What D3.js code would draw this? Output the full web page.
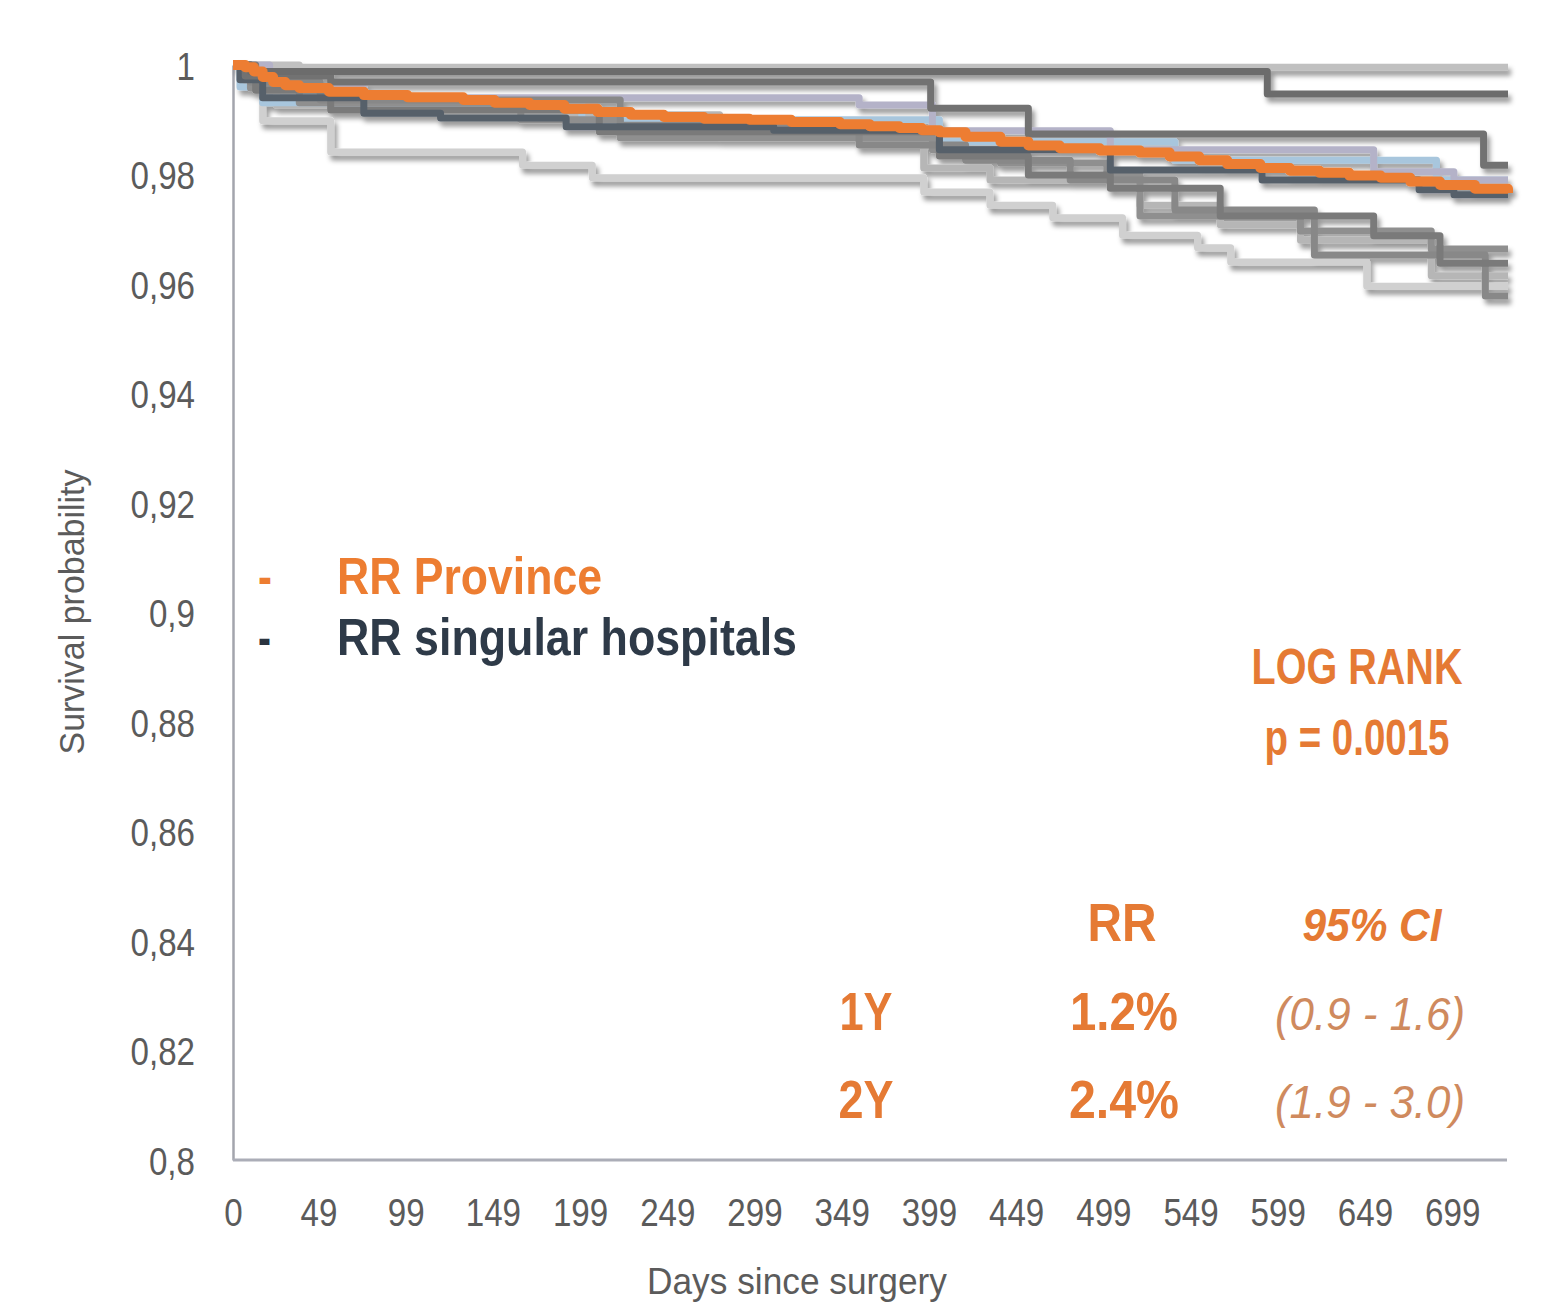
<!DOCTYPE html>
<html>
<head>
<meta charset="utf-8">
<script src="https://cdn.jsdelivr.net/npm/d3@7"></script>
<style>
  body { margin: 0; background: #fff; }
  svg text { font-family: "Liberation Sans", Arial, sans-serif; }
</style>
</head>
<body>
<script>
// Kaplan-Meier curves, [day, survival]
const province = [[0,1],[7,0.9996],[12,0.9988],[17,0.9978],[23,0.9969],[30,0.9963],[38,0.9958],[55,0.9951],[75,0.9945],
  [100,0.9941],[132,0.9936],[150,0.9931],[170,0.9927],[190,0.992],[209,0.9914],[228,0.9909],[247,0.9905],[270,0.9902],
  [296,0.99],[320,0.9896],[348,0.9892],[365,0.9888],[382,0.9885],[395,0.9881],[405,0.9877],[420,0.9869],[440,0.986],
  [456,0.9853],[474,0.9848],[497,0.9844],[520,0.984],[537,0.9833],[554,0.9826],[570,0.9819],[589,0.9812],[606,0.9807],
  [623,0.9803],[640,0.9798],[658,0.9794],[675,0.9787],[692,0.9781],[712,0.9774],[731,0.9766]];

const hosp1 = [[0,1],[38,0.9996],[731,0.9996]];
const hosp2 = [[0,1],[10,0.9988],[593,0.9947],[731,0.9947]];
const hosp3 = [[0,1],[7,0.998],[56,0.9969],[400,0.9921],[456,0.9874],[717,0.9817],[731,0.9817]];
const hosp4 = [[0,1],[7,0.9963],[17,0.9898],[56,0.9841],[166,0.9817],[206,0.9794],[396,0.9768],[434,0.9744],
  [470,0.9721],[510,0.9689],[553,0.9666],[572,0.964],[650,0.9596],[731,0.9596]];
const hosp5 = [[0,1],[4,0.9973],[17,0.994],[75,0.9912],[119,0.9903],[191,0.9887],[310,0.9881],[405,0.9845],
  [503,0.9808],[590,0.979],[680,0.9772],[700,0.9763],[731,0.9763]];
const hosp6 = [[0,1],[10,0.9958],[38,0.9931],[165,0.99],[222,0.9867],[401,0.9845],[440,0.9821],[501,0.9799],
  [520,0.9724],[612,0.9697],[687,0.9664],[731,0.9664]];
const hosp7 = [[0,1],[13,0.9954],[56,0.9918],[210,0.9878],[405,0.9834],[456,0.9799],[503,0.9775],[566,0.9724],
  [654,0.9688],[692,0.9638],[731,0.9638]];
const hosp8 = [[0,1],[5,0.9963],[25,0.9927],[119,0.9909],[279,0.9867],[396,0.9812],[434,0.979],[520,0.9744],
  [566,0.9708],[612,0.968],[687,0.9615],[731,0.9615]];
const hosp9 = [[0,1],[10,0.9969],[50,0.9936],[222,0.989],[359,0.9854],[420,0.9826],[480,0.979],[540,0.9735],
  [620,0.9653],[718,0.9578],[731,0.9578]];
const hosp10 = [[0,1],[21,0.9958],[75,0.994],[359,0.9927],[401,0.988],[503,0.9845],[654,0.9805],[700,0.979],[731,0.979]];
const hosp11 = [[0,1],[4,0.996],[17,0.9931],[200,0.99],[405,0.986],[540,0.9826],[690,0.979],[731,0.979]];

const hospitals = [hosp4, hosp1, hosp8, hosp11, hosp10, hosp6, hosp9, hosp7, hosp5, hosp3, hosp2];
const hospColors = ["#d0d0d0", "#c0c0c0", "#b6b6b6", "#a8c6dd", "#b4b2c8", "#8f8f8f", "#888888", "#7a7a7a", "#56606b", "#727272", "#6c6c6c"];

const xTicks = [0, 49, 99, 149, 199, 249, 299, 349, 399, 449, 499, 549, 599, 649, 699];
const yTicks = [0.8, 0.82, 0.84, 0.86, 0.88, 0.9, 0.92, 0.94, 0.96, 0.98, 1];

const orange = "#ed7d31";
const squish = 0.85;

const svg = d3.select("body").append("svg")
  .attr("width", 1551)
  .attr("height", 1303);

// soft shadow under the curves
const defs = svg.append("defs");
defs.append("filter").attr("id", "shadow")
  .attr("filterUnits", "userSpaceOnUse")
  .attr("x", 200).attr("y", 30).attr("width", 1340).attr("height", 320)
  .append("feDropShadow")
  .attr("dx", 3).attr("dy", 5).attr("stdDeviation", 2.5)
  .attr("flood-color", "#000").attr("flood-opacity", 0.4);

const x = d3.scaleLinear().domain([0, 731]).range([233, 1508]);
const y = d3.scaleLinear().domain([0.8, 1]).range([1160, 65]);

const line = d3.line()
  .x(d => x(d[0]))
  .y(d => y(d[1]))
  .curve(d3.curveStepAfter);

// axes
const yAxis = svg.append("g")
  .attr("transform", "translate(233,0)")
  .call(d3.axisLeft(y).tickValues(yTicks).tickSize(0).tickPadding(38)
    .tickFormat(d => String(+d.toFixed(2)).replace(".", ",")));
yAxis.select(".domain").attr("stroke", "#a3a5ad").attr("stroke-width", 2.5);

const xAxis = svg.append("g")
  .attr("transform", "translate(0,1160)")
  .call(d3.axisBottom(x).tickValues(xTicks).tickSize(0).tickPadding(38).tickFormat(d3.format("d")));
xAxis.select(".domain").attr("stroke", "#abadb7").attr("stroke-width", 3).attr("d", "M233,0H1507");

svg.selectAll(".tick text")
  .attr("fill", "#5b5b5b")
  .style("font-size", "39px")
  .each(function() {
    this.setAttribute("textLength", this.getComputedTextLength() * squish);
    this.setAttribute("lengthAdjust", "spacingAndGlyphs");
  });
yAxis.selectAll(".tick text").attr("dy", "0.36em");
xAxis.selectAll(".tick text").attr("dy", "0.72em");

svg.append("text")
  .attr("x", 797).attr("y", 1294)
  .attr("text-anchor", "middle")
  .attr("fill", "#5b5b5b")
  .style("font-size", "37px")
  .attr("textLength", 300).attr("lengthAdjust", "spacingAndGlyphs")
  .text("Days since surgery");

svg.append("text")
  .attr("transform", "translate(84,612) rotate(-90)")
  .attr("text-anchor", "middle")
  .attr("fill", "#5b5b5b")
  .style("font-size", "35px")
  .attr("textLength", 285).attr("lengthAdjust", "spacingAndGlyphs")
  .text("Survival probability");

// curves
const curves = svg.append("g")
  .attr("fill", "none")
  .attr("stroke-linejoin", "round")
  .attr("filter", "url(#shadow)");

curves.selectAll(".hosp")
  .data(hospitals)
  .enter().append("path")
  .attr("class", "hosp")
  .attr("d", line)
  .attr("stroke", (d, i) => hospColors[i])
  .attr("stroke-width", 7);

curves.append("path")
  .attr("d", line(province))
  .attr("stroke", orange)
  .attr("stroke-width", 10);

// legend
function label(txt, px, py, size, color, width, opts) {
  opts = opts || {};
  const t = svg.append("text")
    .attr("x", px).attr("y", py)
    .attr("text-anchor", opts.anchor || "start")
    .attr("fill", color)
    .style("font-size", size + "px")
    .style("font-weight", opts.weight || "bold")
    .style("font-style", opts.style || "normal")
    .text(txt);
  if (width) t.attr("textLength", width).attr("lengthAdjust", "spacingAndGlyphs");
  return t;
}

label("-", 258, 594, 52, orange, 14);
label("RR Province", 337, 594, 52, orange, 265);
label("-", 258, 655, 52, "#2b3440", 13);
label("RR singular hospitals", 337, 655, 52, "#2e3a48", 460);

// log rank and risk table
const annoOrange = "#e57a34";
const ciOrange = "#cf8a5e";
label("LOG RANK", 1357, 684, 50, annoOrange, 211, {anchor: "middle"});
label("p = 0.0015", 1357, 755, 50, annoOrange, 185, {anchor: "middle"});

label("RR", 1122, 941, 54, annoOrange, 69, {anchor: "middle"});
label("95% CI", 1372, 941, 46, annoOrange, 139, {anchor: "middle", style: "italic"});

label("1Y", 866, 1030, 54, annoOrange, 53, {anchor: "middle"});
label("1.2%", 1124, 1030, 54, annoOrange, 108, {anchor: "middle"});
label("(0.9 - 1.6)", 1370, 1030, 46, ciOrange, 190, {anchor: "middle", weight: "normal", style: "italic"});

label("2Y", 866, 1118, 54, annoOrange, 55, {anchor: "middle"});
label("2.4%", 1124, 1118, 54, annoOrange, 110, {anchor: "middle"});
label("(1.9 - 3.0)", 1370, 1118, 46, ciOrange, 190, {anchor: "middle", weight: "normal", style: "italic"});
</script>
</body>
</html>
